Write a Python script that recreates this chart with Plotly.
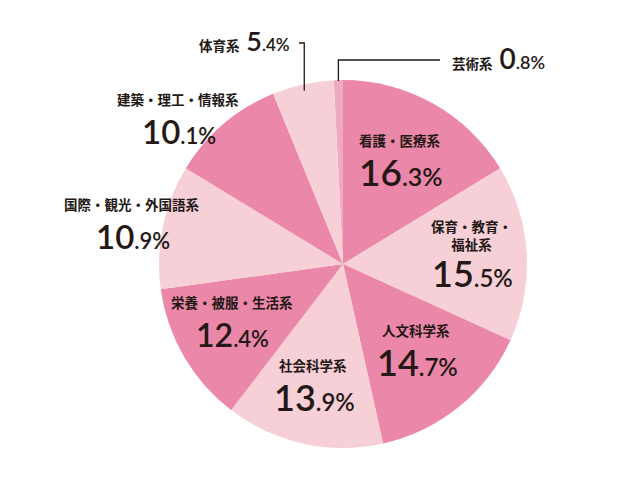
import math
import plotly.graph_objects as go

# ---- data ----
categories = ["芸術系", "看護・医療系", "保育・教育・<br>福祉系", "人文科学系", "社会科学系",
              "栄養・被服・生活系", "国際・観光・外国語系", "建築・理工・情報系", "体育系"]
values = [0.8, 16.3, 15.5, 14.7, 13.9, 12.4, 10.9, 10.1, 5.4]

# ---- style ----
DARK = "#eb87a8"
LIGHT = "#f6cfd7"
MID = "#f0aabf"
colors = [MID, DARK, LIGHT, DARK, LIGHT, DARK, LIGHT, DARK, LIGHT]
TEXT = "#231815"
JP = "Noto Sans CJK JP"
NUM = "Lato"

W, H = 640, 500
CX, CY, R = 343, 264, 184

# label placement: radial factor, angle tweak (deg), number font size
label_r = [None, 0.65, 0.70, 0.61, 0.67, 0.68, 1.17, 1.20, None]
label_dang = [0, -0.8, -1.5, -1.6, 1.6, 3, -0.7, -8, 0]
num_size = [28, 37, 36, 36, 36, 32, 33, 33, 27]


def px(x):
    return x / W


def py(y):
    return 1 - y / H


def pct_html(v, big, ratio=0.68):
    s = f"{v:.1f}"
    a, b = s.split(".")
    small = round(big * ratio)
    return f"{a}<span style='font-size:{small}px'>.{b}%</span>"


total = sum(values)
fig = go.Figure(go.Pie(
    values=values,
    labels=[c.replace("<br>", "") for c in categories],
    sort=False,
    direction="clockwise",
    rotation=-values[0] / total * 360,
    marker=dict(colors=colors, line=dict(width=0)),
    textinfo="none",
    hoverinfo="skip",
    showlegend=False,
    domain=dict(x=[px(CX - R), px(CX + R)], y=[py(CY + R), py(CY - R)]),
))

annotations = []
shapes = []

cum = 0.0
start = -values[0] / total * 360
mids = []
for v in values:
    a0 = start + cum / total * 360
    cum += v
    a1 = start + cum / total * 360
    mids.append((a0 + a1) / 2)

for i, (name, v) in enumerate(zip(categories, values)):
    if label_r[i] is None:
        continue
    ang = math.radians(mids[i] + label_dang[i])
    r = label_r[i] * R
    x = CX + r * math.sin(ang)
    y = CY - r * math.cos(ang)
    two = "<br>" in name
    name_bottom = y + 3 if two else y - 7
    num_mid = y + 20 if two else y + 13
    annotations.append(dict(
        x=px(x), y=py(name_bottom), xref="paper", yref="paper",
        text=name, showarrow=False, xanchor="center", yanchor="bottom",
        font=dict(family=JP, size=13.5, color=TEXT, weight="bold"),
    ))
    annotations.append(dict(
        x=px(x + 1), y=py(num_mid), xref="paper", yref="paper",
        text=pct_html(v, num_size[i]), showarrow=False, xanchor="center", yanchor="middle",
        font=dict(family=NUM, size=num_size[i], color=TEXT, weight=600),
    ))

# outside labels with leader lines: 芸術系 (index 0) and 体育系 (last)
for i, elbow_y, side, end_x, pad in [(0, 60, 1, 440, 10), (len(values) - 1, 43, -1, 299, 7)]:
    ang = math.radians(mids[i])
    if i == 0:
        x0 = CX + R * math.sin(ang)
        y0 = CY - R * math.cos(ang) + 1
    else:
        rr = 0.965 * R
        x0 = CX + rr * math.sin(ang)
        y0 = CY - rr * math.cos(ang)
    path = f"M {px(x0)} {py(y0)} L {px(x0)} {py(elbow_y)} L {px(end_x)} {py(elbow_y)}"
    shapes.append(dict(type="path", path=path, xref="paper", yref="paper",
                       line=dict(color=TEXT, width=1.3)))
    big = num_size[i]
    txt = (f"<span style='font-family:{JP};font-size:13.5px;font-weight:bold'>{categories[i]}</span> "
           + pct_html(values[i], big, 0.64))
    annotations.append(dict(
        x=px(end_x + side * pad), y=py(elbow_y - 2), xref="paper", yref="paper",
        text=txt, showarrow=False,
        xanchor="left" if side > 0 else "right", yanchor="middle",
        font=dict(family=NUM, size=big, color=TEXT, weight=600),
    ))

fig.update_layout(
    width=W, height=H,
    margin=dict(l=0, r=0, t=0, b=0),
    paper_bgcolor="white", plot_bgcolor="white",
    annotations=annotations, shapes=shapes,
)

fig.write_html("out.html", config={"displayModeBar": False},
               post_script="document.body.style.margin='0';")
